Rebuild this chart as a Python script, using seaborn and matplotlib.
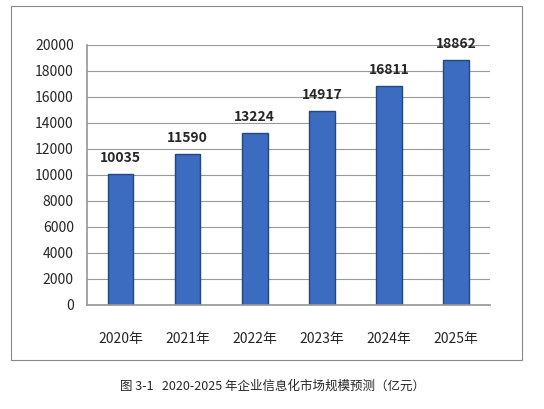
import matplotlib
matplotlib.use("Agg")
import matplotlib.pyplot as plt
import seaborn as sns
import pandas as pd
from matplotlib.patches import Rectangle

years = ["2020年", "2021年", "2022年", "2023年", "2024年", "2025年"]
values = [10035, 11590, 13224, 14917, 16811, 18862]
yticks = list(range(0, 20001, 2000))

sns.set_theme(style="white")
plt.rcParams['font.family'] = ['Noto Sans CJK SC', 'DejaVu Sans']

fig = plt.figure(figsize=(5.44, 4.09), dpi=100)
fig.patches.append(Rectangle((0.02, 0.12), 0.94, 0.865, transform=fig.transFigure,
                             fill=False, edgecolor="#888888", lw=0.8))
ax = fig.add_axes([0.16, 0.255, 0.74, 0.635])
df = pd.DataFrame({"year": years, "value": values})
sns.barplot(data=df, x="year", y="value", ax=ax, color="#3b6cc0",
            width=0.38, edgecolor="#23477f", linewidth=1.0, saturation=1)
ax.set_ylim(0, 20000)
ax.set_yticks(yticks)
ax.set_yticklabels([str(t) for t in yticks], fontsize=10)
ax.tick_params(axis='x', labelsize=10, pad=14)
ax.set_xlabel("")
ax.set_ylabel("")
ax.yaxis.grid(True, color="#999999", lw=0.8)
for s in ["top", "right"]:
    ax.spines[s].set_visible(False)
ax.spines["left"].set_color("#999999")
ax.spines["bottom"].set_color("#999999")
for i, v in enumerate(values):
    ax.text(i, v + 700, str(v), ha="center", va="bottom", fontsize=10, fontweight="bold")
fig.text(0.5, 0.055, "图 3-1   2020-2025 年企业信息化市场规模预测（亿元）",
         ha="center", va="center", fontsize=9)
fig.savefig("out.png", dpi=100)
